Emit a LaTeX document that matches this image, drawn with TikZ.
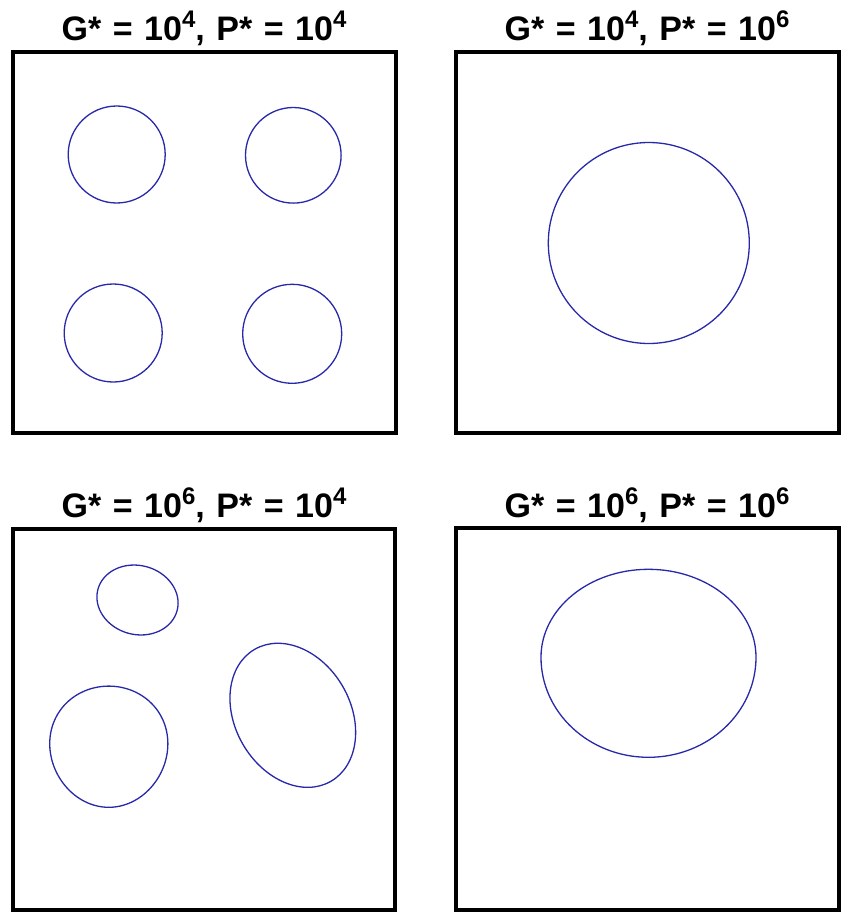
\documentclass[tikz,border=0pt]{standalone}
\usepackage{fontspec}
\setmainfont{Liberation Sans}
\definecolor{curveblue}{RGB}{40,40,170}
\newcommand{\supnum}[1]{\raisebox{13pt}{\fontsize{24}{24}\selectfont #1}}
\newcommand{\tsp}{\hspace{0.34em}}
\begin{document}
\begin{tikzpicture}[x=1pt,y=-1pt,
  panel/.style={draw=black,line width=3.6pt},
  blob/.style={draw=curveblue,line width=1.3pt},
  ttl/.style={font=\fontsize{34}{36}\selectfont\bfseries,anchor=base,inner sep=0pt}]
\useasboundingbox (0,0) rectangle (854,916);
% panels
\draw[panel] (13,52) rectangle (396,433);
\draw[panel] (456,52) rectangle (839,433);
\draw[panel] (13,529) rectangle (395,910);
\draw[panel] (456,528) rectangle (839,910);
% titles
\node[ttl] (t1) at (204,40) {G*\tsp=\tsp10\supnum{4},\tsp P*\tsp=\tsp10\supnum{4}};
\node[ttl] (t2) at (647,40) {G*\tsp=\tsp10\supnum{4},\tsp P*\tsp=\tsp10\supnum{6}};
\node[ttl] (t3) at (204,517) {G*\tsp=\tsp10\supnum{6},\tsp P*\tsp=\tsp10\supnum{4}};
\node[ttl] (t4) at (647,517) {G*\tsp=\tsp10\supnum{6},\tsp P*\tsp=\tsp10\supnum{6}};
% top-left: four circles
\draw[blob] (116.7,154.5) circle (48.5);
\draw[blob] (293.3,155.3) circle (47.8);
\draw[blob] (113.2,333) circle (49);
\draw[blob] (292.2,333.8) circle (49.5);
% top-right: one large circle
\draw[blob] (648.8,243) circle (100.5);
% bottom-left: three drops
\draw[blob, rotate around={-15:(137.5,600)}] (137.5,600) ellipse [x radius=41, y radius=34.5];
\draw[blob] plot[domain=0:360, samples=120, smooth cycle]
  ({108.8 + 59*cos(\x)*(1-0.05*sin(\x))}, {746.7 + 60.6*sin(\x)});
\draw[blob, rotate around={30:(292.8,715.3)}] (292.8,715.3) ellipse [x radius=57.7, y radius=76.2];
% bottom-right: one large drop (slightly flatter top half)
\draw[blob] (541,657.3)
  arc[start angle=180, end angle=360, x radius=107.5, y radius=88]
  arc[start angle=0, end angle=180, x radius=107.5, y radius=100] -- cycle;
\end{tikzpicture}
\end{document}
